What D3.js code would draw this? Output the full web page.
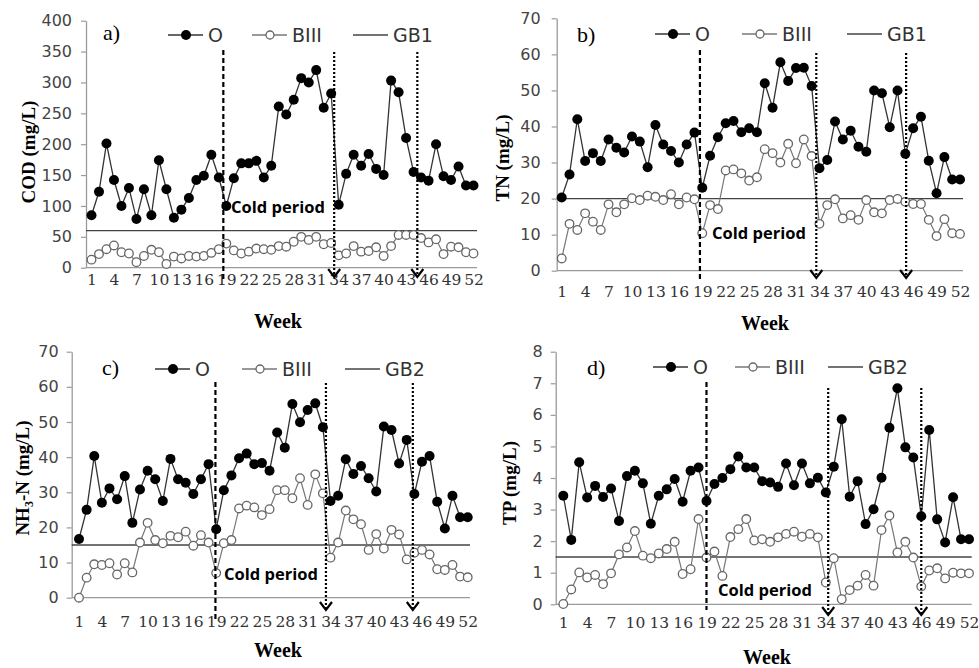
<!DOCTYPE html>
<html>
<head>
<meta charset="utf-8">
<script src="https://cdn.jsdelivr.net/npm/d3@7"></script>
<style>
  body { margin: 0; background: #fff; }
  svg { display: block; }
</style>
</head>
<body>
<div id="chart"></div>
<script>
// weeks of the sampling year and the labelled ones
const weeks = d3.range(1, 53);
const weekTicks = [1, 4, 7, 10, 13, 16, 19, 22, 25, 28, 31, 34, 37, 40, 43, 46, 49, 52];

// a) COD (mg/L)
const codO = [85, 123, 201, 142, 100, 129, 79, 127, 85, 174,
  127, 81, 94, 113, 142, 149, 183, 146, 100, 145,
  169, 169, 173, 146, 165, 261, 248, 272, 307, 300,
  320, 259, 282, 102, 152, 183, 165, 184, 160, 150,
  303, 284, 210, 155, 146, 141, 200, 148, 142, 164,
  133, 133];
const codB = [13, 22, 30, 36, 25, 23, 9, 19, 29, 25,
  6, 18, 15, 19, 18, 19, 24, 30, 39, 28,
  23, 26, 31, 30, 29, 35, 34, 42, 50, 45,
  50, 38, 40, 20, 23, 35, 26, 27, 33, 19,
  35, 53, 53, 53, 48, 41, 46, 22, 34, 33,
  25, 23];

// b) TN (mg/L)
const tnO = [20.3, 26.7, 42, 30.4, 32.6, 30.4, 36.4, 34.1, 32.8, 37.2,
  35.8, 28.7, 40.4, 35, 33.2, 30, 35, 38.3, 23, 31.9,
  37, 40.9, 41.5, 38.4, 39.5, 38.4, 52, 45.2, 57.8, 52.6,
  56.2, 56.3, 51.2, 28.4, 30.7, 41.4, 36.4, 38.8, 34.4, 33,
  50, 49.2, 39.8, 50, 32.4, 39.5, 42.7, 30.5, 21.5, 31.5,
  25.3, 25.3];
const tnB = [3.4, 13, 11.3, 15.9, 13.6, 11.3, 18.4, 16.2, 18.4, 20.1,
  19.6, 20.8, 20.5, 19.6, 21.2, 18.4, 20.3, 19.8, 10.4, 18.2,
  17.1, 27.8, 28.1, 27, 25, 25.9, 33.7, 32.6, 30, 35.2,
  29.8, 36.4, 31.8, 13, 18.2, 19.8, 14.5, 15.4, 14.1, 19.6,
  16.2, 15.9, 19.6, 19.9, 19.1, 18.5, 18.5, 14.1, 9.6, 14.3,
  10.4, 10.2];

// c) NH3-N (mg/L)
const nhO = [16.7, 25, 40.3, 27, 31.1, 28, 34.6, 21.3, 30.8, 36.1,
  33.7, 27.5, 39.5, 33.7, 32.7, 29.5, 33.7, 38, 19.5, 30.6,
  34.8, 39.7, 41, 38, 38.3, 36.1, 47, 42.7, 55.1, 49.9,
  53.4, 55.3, 48.5, 27.5, 29, 39.4, 35.2, 37.5, 34, 30.2,
  48.7, 47.7, 38.2, 44.9, 29.5, 38.7, 40.3, 27.3, 19.7, 29,
  22.9, 22.9];
const nhB = [0, 5.7, 9.5, 9.3, 9.8, 6.6, 9.8, 7.2, 15.7, 21.3,
  16.4, 15.5, 17.6, 17.2, 18.8, 14.8, 17.8, 15.7, 7, 15.5,
  16.4, 25.4, 26.2, 25.7, 23.5, 25.2, 30.6, 30.6, 28.3, 34,
  26.4, 35.1, 29.7, 11.4, 15.7, 24.8, 22.3, 20.9, 13.6, 18.1,
  14, 19.3, 18, 10.9, 12.8, 13.6, 12.3, 8.1, 7.9, 9.3,
  6, 5.8];

// d) TP (mg/L)
const tpO = [3.44, 2.04, 4.5, 3.38, 3.75, 3.4, 3.67, 2.64, 4.06, 4.23,
  3.83, 2.55, 3.44, 3.64, 3.97, 3.25, 4.23, 4.33, 3.27, 3.81,
  4.0, 4.28, 4.68, 4.33, 4.33, 3.9, 3.86, 3.72, 4.46, 3.77,
  4.46, 3.83, 4.01, 3.54, 4.36, 5.86, 3.41, 3.9, 2.54, 3.01,
  4.01, 5.59, 6.84, 4.97, 4.65, 2.79, 5.52, 2.69, 1.96, 3.39,
  2.06, 2.06];
const tpB = [0.01, 0.47, 1.01, 0.85, 0.93, 0.64, 0.98, 1.58, 1.8, 2.32,
  1.54, 1.46, 1.61, 1.75, 1.98, 0.96, 1.11, 2.7, 1.48, 1.67,
  0.9, 2.13, 2.38, 2.7, 2.02, 2.06, 1.98, 2.12, 2.23, 2.3,
  2.14, 2.23, 2.12, 0.69, 1.46, 0.16, 0.45, 0.59, 0.93, 0.59,
  2.35, 2.81, 1.64, 1.98, 1.48, 0.56, 1.07, 1.14, 0.82, 1.0,
  0.98, 0.98];

// discharge standards
const standards = [60, 20, 15, 1.5];
const standardNames = ['GB1', 'GB1', 'GB2', 'GB2'];
// week positions of the period boundaries (dashed, then the two dotted ones)
const cuts = [[18.6, 33.4, 44.5], [18.7, 33.6, 45.1], [18.9, 33.4, 44.8], [19.0, 34.3, 46.0]];

const width = 979;
const height = 668;

// layout of each panel, in page pixels
const panels = [
  { tag: 'a)', title: ['COD (mg/L)'], o: codO, b: codB, max: 400, step: 50,
    left: 86, right: 477, x1: 91.5, x52: 473.5, top: 20.7, bottom: 267.7,
    yPad: 9, xPad: 6, tagX: 103, tagY: 40, titleX: 28, titleY: 152,
    weekX: 278, weekY: 328, legX: 168, legY: 35, legGap: [0, 84, 185],
    coldX: 231, coldY: 206, dashTop: 50, dashBot: 279, dotTop: 52, dotBot: 277 },
  { tag: 'b)', title: ['TN (mg/L)'], o: tnO, b: tnB, max: 70, step: 10,
    left: 556.7, right: 963, x1: 561.7, x52: 960, top: 18.3, bottom: 270.7,
    yPad: 11, xPad: 15, tagX: 577, tagY: 42, titleX: 502, titleY: 158,
    weekX: 765, weekY: 330, legX: 655, legY: 34, legGap: [0, 87, 192],
    coldX: 712, coldY: 232, dashTop: 50, dashBot: 279, dotTop: 53, dotBot: 278 },
  { tag: 'c)', title: ['NH', '3', '-N (mg/L)'], o: nhO, b: nhB, max: 70, step: 10,
    left: 71.7, right: 470, x1: 79, x52: 467.7, top: 351.7, bottom: 597.7,
    yPad: 8, xPad: 18, tagX: 102, tagY: 375, titleX: 22, titleY: 478,
    weekX: 278, weekY: 657, legX: 155, legY: 369, legGap: [0, 87, 190],
    coldX: 224, coldY: 573, dashTop: 382, dashBot: 620, dotTop: 383, dotBot: 610 },
  { tag: 'd)', title: ['TP (mg/L)'], o: tpO, b: tpB, max: 8, step: 1,
    left: 555.7, right: 971.7, x1: 563.3, x52: 969, top: 351.7, bottom: 604.3,
    yPad: 8, xPad: 13, tagX: 587, tagY: 375, titleX: 509, titleY: 483,
    weekX: 767, weekY: 664, legX: 653, legY: 367, legGap: [0, 82, 175],
    coldX: 718, coldY: 589, dashTop: 382, dashBot: 610, dotTop: 388, dotBot: 615 },
];

const svg = d3.select('#chart')
  .append('svg')
  .attr('width', width)
  .attr('height', height);

svg.append('rect').attr('width', width).attr('height', height).attr('fill', '#fff');

panels.forEach((p, i) => {
  const x = d3.scaleLinear().domain([1, 52]).range([p.x1, p.x52]);
  const y = d3.scaleLinear().domain([0, p.max]).range([p.bottom, p.top]);
  const g = svg.append('g');

  // y axis
  const yAxis = g.append('g')
    .attr('transform', `translate(${p.left},0)`)
    .call(d3.axisLeft(y)
      .tickValues(d3.range(0, p.max + p.step / 2, p.step))
      .tickSize(5)
      .tickSizeOuter(0)
      .tickPadding(p.yPad));
  yAxis.select('.domain').attr('stroke', '#9a9a9a').attr('stroke-width', 1.3);
  yAxis.selectAll('.tick line').attr('stroke', '#9a9a9a').attr('stroke-width', 1.2);
  yAxis.selectAll('.tick text')
    .attr('fill', '#444')
    .style('font-family', 'DejaVu Sans, sans-serif')
    .style('font-size', '16px');

  // x axis: base line and week labels
  g.append('line')
    .attr('x1', p.left).attr('x2', p.right)
    .attr('y1', y(0)).attr('y2', y(0))
    .attr('stroke', '#9a9a9a').attr('stroke-width', 1.3);
  const xAxis = g.append('g')
    .attr('transform', `translate(0,${y(0)})`)
    .call(d3.axisBottom(x).tickValues(weekTicks).tickSize(0).tickPadding(p.xPad));
  xAxis.select('.domain').remove();
  xAxis.selectAll('.tick text')
    .attr('fill', '#333')
    .style('font-family', 'DejaVu Serif, serif')
    .style('font-size', '15.5px');

  // standard line
  g.append('line')
    .attr('x1', p.left).attr('x2', p.right)
    .attr('y1', y(standards[i])).attr('y2', y(standards[i]))
    .attr('stroke', '#444').attr('stroke-width', 1.4);

  const line = d3.line().x((d, k) => x(weeks[k])).y(d => y(d));

  // BIII series
  g.append('path')
    .datum(p.b)
    .attr('d', line)
    .attr('fill', 'none')
    .attr('stroke', '#777')
    .attr('stroke-width', 1.2);
  g.selectAll('.ob')
    .data(p.b)
    .enter()
    .append('circle')
    .attr('cx', (d, k) => x(weeks[k]))
    .attr('cy', d => y(d))
    .attr('r', 4.3)
    .attr('fill', '#fff')
    .attr('stroke', '#666')
    .attr('stroke-width', 1.3);

  // O series
  g.append('path')
    .datum(p.o)
    .attr('d', line)
    .attr('fill', 'none')
    .attr('stroke', '#333')
    .attr('stroke-width', 1.3);
  g.selectAll('.oo')
    .data(p.o)
    .enter()
    .append('circle')
    .attr('cx', (d, k) => x(weeks[k]))
    .attr('cy', d => y(d))
    .attr('r', 5)
    .attr('fill', '#000');

  // period boundaries
  const [c0, c1, c2] = cuts[i];
  g.append('line')
    .attr('x1', x(c0)).attr('x2', x(c0))
    .attr('y1', p.dashTop).attr('y2', p.dashBot)
    .attr('stroke', '#000').attr('stroke-width', 2.2)
    .attr('stroke-dasharray', '5,3');
  [c1, c2].forEach(c => {
    g.append('line')
      .attr('x1', x(c)).attr('x2', x(c))
      .attr('y1', p.dotTop).attr('y2', p.dotBot)
      .attr('stroke', '#000').attr('stroke-width', 2.2)
      .attr('stroke-dasharray', '2,2');
    g.append('path')
      .attr('d', `M${x(c) - 6},${p.dotBot - 8}L${x(c)},${p.dotBot}L${x(c) + 6},${p.dotBot - 8}`)
      .attr('fill', 'none')
      .attr('stroke', '#000')
      .attr('stroke-width', 2.2);
  });

  g.append('text')
    .attr('x', p.coldX).attr('y', p.coldY)
    .attr('dominant-baseline', 'central')
    .style('font-family', 'Open Sans, sans-serif')
    .style('font-weight', 'bold')
    .style('font-size', '16.5px')
    .text('Cold period');

  // panel tag
  g.append('text')
    .attr('x', p.tagX).attr('y', p.tagY)
    .style('font-family', 'Liberation Serif, serif')
    .style('font-size', '22px')
    .text(p.tag);

  // axis titles
  const t = g.append('text')
    .attr('transform', `translate(${p.titleX},${p.titleY}) rotate(-90)`)
    .attr('text-anchor', 'middle')
    .attr('dominant-baseline', 'central')
    .style('font-family', 'Liberation Serif, serif')
    .style('font-weight', 'bold')
    .style('font-size', '19px');
  if (p.title.length === 1) {
    t.text(p.title[0]);
  } else {
    t.append('tspan').text(p.title[0]);
    t.append('tspan').attr('baseline-shift', 'sub').style('font-size', '12px').text(p.title[1]);
    t.append('tspan').text(p.title[2]);
  }

  g.append('text')
    .attr('x', p.weekX).attr('y', p.weekY)
    .attr('text-anchor', 'middle')
    .style('font-family', 'Liberation Serif, serif')
    .style('font-weight', 'bold')
    .style('font-size', '20px')
    .text('Week');

  // legend
  const legend = g.append('g')
    .style('font-family', 'DejaVu Sans, sans-serif')
    .style('font-size', '19px');
  const items = [
    { name: 'O', marker: 'dot', stroke: '#333' },
    { name: 'BIII', marker: 'ring', stroke: '#777' },
    { name: standardNames[i], marker: null, stroke: '#444' },
  ];
  items.forEach((it, k) => {
    const lx = p.legX + p.legGap[k];
    legend.append('line')
      .attr('x1', lx).attr('x2', lx + 35)
      .attr('y1', p.legY).attr('y2', p.legY)
      .attr('stroke', it.stroke).attr('stroke-width', 1.4);
    if (it.marker === 'dot') {
      legend.append('circle').attr('cx', lx + 18).attr('cy', p.legY).attr('r', 5).attr('fill', '#000');
    } else if (it.marker === 'ring') {
      legend.append('circle').attr('cx', lx + 18).attr('cy', p.legY).attr('r', 4)
        .attr('fill', '#fff').attr('stroke', '#666').attr('stroke-width', 1.3);
    }
    legend.append('text')
      .attr('x', lx + 40).attr('y', p.legY)
      .attr('dominant-baseline', 'central')
      .attr('fill', '#333')
      .text(it.name);
  });
});
</script>
</body>
</html>
